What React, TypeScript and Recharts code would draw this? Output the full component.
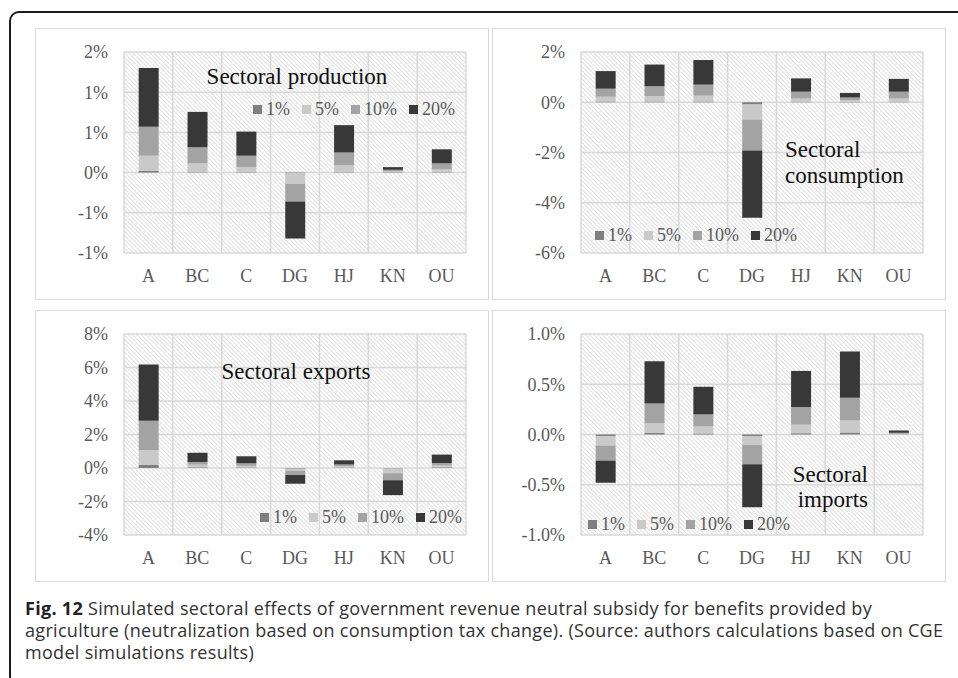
import React from 'react';
import { BarChart, Bar, XAxis, YAxis, CartesianGrid, Legend } from 'recharts';

// ---------- data ----------
const categories = ['A', 'BC', 'C', 'DG', 'HJ', 'KN', 'OU'];
const scenarioNames = ['1%', '5%', '10%', '20%'];
const seriesKeys = ['s1', 's5', 's10', 's20'];

// Sectoral production (%)
const production1 = [0.02, 0.005, 0.005, -0.01, 0.005, 0.005, 0.005];
const production5 = [0.19, 0.11, 0.065, -0.13, 0.085, 0.01, 0.035];
const production10 = [0.36, 0.2, 0.14, -0.22, 0.16, 0.02, 0.075];
const production20 = [0.73, 0.44, 0.3, -0.46, 0.34, 0.033, 0.175];

// Sectoral consumption (%)
const consumption1 = [0.03, 0.03, 0.03, -0.09, 0.02, 0.02, 0.02];
const consumption5 = [0.19, 0.21, 0.23, -0.6, 0.13, 0.07, 0.13];
const consumption10 = [0.32, 0.4, 0.44, -1.23, 0.27, 0.1, 0.27];
const consumption20 = [0.7, 0.86, 0.98, -2.68, 0.53, 0.18, 0.51];

// Sectoral exports (%)
const exports1 = [0.18, 0.04, 0.03, -0.04, 0.03, -0.03, 0.04];
const exports5 = [0.89, 0.16, 0.1, -0.14, 0.08, -0.28, 0.12];
const exports10 = [1.75, 0.16, 0.15, -0.24, 0.1, -0.42, 0.14];
const exports20 = [3.36, 0.55, 0.42, -0.52, 0.25, -0.89, 0.5];

// Sectoral imports (%)
const imports1 = [-0.017, 0.017, 0.01, -0.015, 0.013, 0.02, 0.002];
const imports5 = [-0.093, 0.096, 0.07, -0.09, 0.085, 0.12, 0.005];
const imports10 = [-0.15, 0.195, 0.12, -0.19, 0.175, 0.225, 0.01];
const imports20 = [-0.22, 0.42, 0.275, -0.43, 0.36, 0.46, 0.023];

// Axis ticks and their printed labels
const productionTicks = [-1, -0.5, 0, 0.5, 1, 1.5];
const productionTickLabels = ['-1%', '-1%', '0%', '1%', '1%', '2%'];
const consumptionTicks = [-6, -4, -2, 0, 2];
const consumptionTickLabels = ['-6%', '-4%', '-2%', '0%', '2%'];
const exportsTicks = [-4, -2, 0, 2, 4, 6, 8];
const exportsTickLabels = ['-4%', '-2%', '0%', '2%', '4%', '6%', '8%'];
const importsTicks = [-1, -0.5, 0, 0.5, 1];
const importsTickLabels = ['-1.0%', '-0.5%', '0.0%', '0.5%', '1.0%'];

const productionTitle = ['Sectoral production'];
const consumptionTitle = ['Sectoral', 'consumption'];
const exportsTitle = ['Sectoral exports'];
const importsTitle = ['Sectoral', 'imports'];

const captionBold = 'Fig. 12';
const captionLines = [
  ' Simulated sectoral effects of government revenue neutral subsidy for benefits provided by',
  'agriculture (neutralization based on consumption tax change). (Source: authors calculations based on CGE',
  'model simulations results)',
];

// ---------- styles ----------
const seriesColors = ['#7f7f7f', '#c9c9c9', '#a3a3a3', '#383838'];
const SERIF = '"Liberation Serif", "Times New Roman", serif';
const AXIS_TEXT = '#595959';
const CHART_W = 452;
const CHART_H = 270;

function makeRows(a: number[], b: number[], c: number[], d: number[]) {
  return categories.map((cat, i) => ({ category: cat, s1: a[i], s5: b[i], s10: c[i], s20: d[i] }));
}

const LegendContent = (props: any) => {
  const payload = [...(props.payload || [])].sort(
    (x: any, y: any) => scenarioNames.indexOf(x.value) - scenarioNames.indexOf(y.value)
  );
  return (
    <div
      style={{
        display: 'flex',
        alignItems: 'center',
        fontFamily: SERIF,
        fontSize: 18,
        color: AXIS_TEXT,
        lineHeight: '20px',
        whiteSpace: 'nowrap',
      }}
    >
      {payload.map((e: any, i: number) => (
        <div key={i} style={{ display: 'flex', alignItems: 'center', marginRight: 12 }}>
          <span style={{ width: 9, height: 9, background: e.color, display: 'inline-block', marginRight: 4 }} />
          <span style={{ fontFamily: SERIF, fontSize: 18 }}>{e.value}</span>
        </div>
      ))}
    </div>
  );
};

type PanelProps = {
  id: string;
  left: number;
  top: number;
  rows: any[];
  ticks: number[];
  labels: string[];
  title: string[];
  titleX: number;
  titleY: number[];
  titleAnchor: 'start' | 'middle' | 'end';
  legendX: number;
  legendY: number;
};

function Panel(p: PanelProps) {
  const patternId = `hatch-${p.id}`;
  return (
    <div
      style={{
        position: 'absolute',
        left: p.left,
        top: p.top,
        width: CHART_W + 2,
        height: CHART_H + 2,
        border: '1px solid #d9d9d9',
        boxSizing: 'border-box',
        background: '#fff',
      }}
    >
      <BarChart
        width={CHART_W}
        height={CHART_H}
        data={p.rows}
        margin={{ top: 23, right: 22, bottom: 0, left: 0 }}
        barCategoryGap="30%"
        stackOffset="sign"
      >
        <defs>
          <pattern id={patternId} width={3} height={3} patternUnits="userSpaceOnUse" patternTransform="rotate(-45)">
            <rect width={3} height={3} fill="#ffffff" />
            <line x1={0.6} y1={0} x2={0.6} y2={3} stroke="#e0e0e0" strokeWidth={1.1} />
          </pattern>
        </defs>
        <CartesianGrid
          fill={`url(#${patternId})`}
          stroke="#d9d9d9"
          strokeWidth={1.5}
          verticalCoordinatesGenerator={({ offset }: any) =>
            categories.map((_, i) => offset.left + (i * offset.width) / categories.length).concat(offset.left + offset.width)
          }
        />
        <XAxis
          dataKey="category"
          axisLine={false}
          tickLine={false}
          tickSize={0}
          tickMargin={16}
          height={46}
          interval={0}
          tick={{ fill: AXIS_TEXT, fontSize: 18, fontFamily: SERIF }}
        />
        <YAxis
          type="number"
          domain={[p.ticks[0], p.ticks[p.ticks.length - 1]]}
          ticks={p.ticks}
          interval={0}
          axisLine={false}
          tickLine={false}
          tickSize={0}
          tickMargin={16}
          width={88}
          tick={{ fill: AXIS_TEXT, fontSize: 18, fontFamily: SERIF }}
          tickFormatter={(v: number) => p.labels[p.ticks.indexOf(v)]}
        />
        <Legend
          layout="horizontal"
          verticalAlign="middle"
          align="center"
          wrapperStyle={{ left: p.legendX, top: p.legendY, width: 'auto', height: 'auto', right: 'auto', bottom: 'auto' }}
          content={LegendContent}
        />
        {seriesKeys.map((k, i) => (
          <Bar key={k} dataKey={k} name={scenarioNames[i]} stackId="s" fill={seriesColors[i]} isAnimationActive={false} />
        ))}
      </BarChart>
      <svg
        width={CHART_W}
        height={CHART_H}
        style={{ position: 'absolute', left: 0, top: 0, pointerEvents: 'none' }}
      >
        {p.title.map((line, i) => (
          <text
            key={i}
            x={p.titleX}
            y={p.titleY[i]}
            textAnchor={p.titleAnchor}
            fontFamily={SERIF}
            fontSize={23}
            fill="#111"
          >
            {line}
          </text>
        ))}
      </svg>
    </div>
  );
}

export default function App() {
  return (
    <div
      style={{
        position: 'absolute',
        left: 0,
        top: 0,
        width: 958,
        height: 678,
        overflow: 'hidden',
        background: '#fff',
      }}
    >
      <div
        style={{
          position: 'absolute',
          left: 9,
          top: 11,
          width: 1000,
          height: 675,
          border: '2px solid #1c1c1c',
          borderRadius: 10,
          boxSizing: 'border-box',
        }}
      />
      <Panel
        id="p1"
        left={35}
        top={28}
        rows={makeRows(production1, production5, production10, production20)}
        ticks={productionTicks}
        labels={productionTickLabels}
        title={productionTitle}
        titleX={261}
        titleY={[54.5]}
        titleAnchor="middle"
        legendX={217}
        legendY={70}
      />
      <Panel
        id="p2"
        left={492}
        top={28}
        rows={makeRows(consumption1, consumption5, consumption10, consumption20)}
        ticks={consumptionTicks}
        labels={consumptionTickLabels}
        title={consumptionTitle}
        titleX={292}
        titleY={[128, 154]}
        titleAnchor="start"
        legendX={102}
        legendY={196}
      />
      <Panel
        id="p3"
        left={35}
        top={310}
        rows={makeRows(exports1, exports5, exports10, exports20)}
        ticks={exportsTicks}
        labels={exportsTickLabels}
        title={exportsTitle}
        titleX={260}
        titleY={[68]}
        titleAnchor="middle"
        legendX={224}
        legendY={196}
      />
      <Panel
        id="p4"
        left={492}
        top={310}
        rows={makeRows(imports1, imports5, imports10, imports20)}
        ticks={importsTicks}
        labels={importsTickLabels}
        title={importsTitle}
        titleX={375}
        titleY={[171, 196]}
        titleAnchor="end"
        legendX={95}
        legendY={203}
      />
      <div
        style={{
          position: 'absolute',
          left: 25,
          top: 597,
          fontFamily: '"Open Sans", sans-serif',
          fontSize: 18,
          letterSpacing: 0.3,
          lineHeight: '22px',
          color: '#333',
          whiteSpace: 'nowrap',
        }}
      >
        <div>
          <b style={{ color: '#222' }}>{captionBold}</b>
          {captionLines[0]}
        </div>
        <div>{captionLines[1]}</div>
        <div>{captionLines[2]}</div>
      </div>
    </div>
  );
}
